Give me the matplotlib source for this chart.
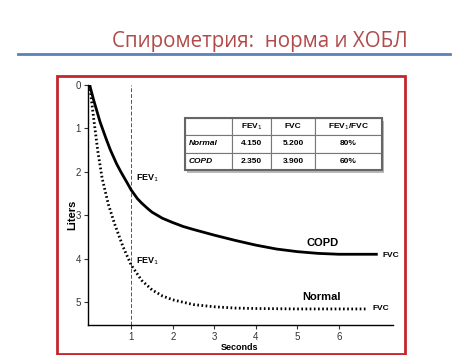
import matplotlib
matplotlib.use("Agg")
import matplotlib.pyplot as plt
from matplotlib.patches import Rectangle
from matplotlib.lines import Line2D

# Data
copd_t = [0, 0.1, 0.25, 0.4, 0.5, 0.65, 0.75, 0.9, 1, 1.15, 1.25, 1.4, 1.5, 1.75, 2,
          2.25, 2.5, 3, 3.5, 4, 4.5, 5, 5.5, 6, 6.9]
copd_v = [0, 0.36, 0.85, 1.25, 1.5, 1.82, 2.0, 2.25, 2.42, 2.62, 2.72, 2.85, 2.93, 3.07, 3.17,
          3.26, 3.33, 3.46, 3.58, 3.69, 3.78, 3.84, 3.88, 3.9, 3.9]
normal_t = [0, 0.1, 0.2, 0.3, 0.45, 0.6, 0.8, 1, 1.25, 1.5, 1.75, 2, 2.5, 3, 3.5, 4, 5, 6, 6.65]
normal_v = [0, 0.8, 1.55, 2.15, 2.75, 3.2, 3.72, 4.15, 4.5, 4.72, 4.86, 4.95, 5.06, 5.11, 5.14,
            5.15, 5.16, 5.16, 5.16]
x_ticks = [1, 2, 3, 4, 5, 6]
y_ticks = [0, 1, 2, 3, 4, 5]
col_labels = ["", "FEV$_1$", "FVC", "FEV$_1$/FVC"]
row_labels = ["Normal", "COPD"]
fev1 = ["4.150", "2.350"]
fvc = ["5.200", "3.900"]
ratio = ["80%", "60%"]

plt.rcParams['font.family'] = ['Liberation Sans', 'DejaVu Sans']

W, H = 474, 355
fig = plt.figure(figsize=(W / 100, H / 100), dpi=100)

# Slide title and rule
fig.text(260 / W, 1 - 41 / H, "Спирометрия:  норма и ХОБЛ", ha='center', va='center',
         fontsize=14.8, color='#b24a4b', family=['Open Sans', 'DejaVu Sans'])
fig.add_artist(Line2D([18 / W, 450 / W], [1 - 54 / H, 1 - 54 / H], color='#5a80b8', lw=2))

# Red frame
fig.add_artist(Rectangle((57 / W, 1 - 354 / H), 348 / W, 278 / H, fill=False,
                         edgecolor='#c1272d', lw=2))

# Axes
ax = fig.add_axes([88 / W, 1 - 325 / H, 305 / W, 240 / H])
ax.set_xlim(-0.04, 7.3)
ax.set_ylim(5.53, 0)
for s in ['top', 'right']:
    ax.spines[s].set_visible(False)
for s in ['left', 'bottom']:
    ax.spines[s].set_linewidth(1)
ax.set_xticks(x_ticks)
ax.set_yticks(y_ticks)
ax.tick_params(labelsize=7, length=3, width=0.8, colors='#333333', pad=2)

# Vertical FEV1 marker
ax.axvline(1, color='#555555', lw=0.7, ls=(0, (4, 2)))

ax.plot(copd_t, copd_v, color='black', lw=2)
ax.plot(normal_t, normal_v, color='black', lw=2, ls=(0, (0.6, 0.9)))

ax.text(1.12, 2.15, "FEV$_1$", fontsize=6.5, fontweight='bold', va='center')
ax.text(1.12, 4.07, "FEV$_1$", fontsize=6.5, fontweight='bold', va='center')
ax.text(5.6, 3.64, "COPD", fontsize=8, fontweight='bold', ha='center', va='center')
ax.text(5.58, 4.88, "Normal", fontsize=8, fontweight='bold', ha='center', va='center')
ax.text(7.05, 3.92, "FVC", fontsize=6, fontweight='bold', va='center')
ax.text(6.8, 5.16, "FVC", fontsize=6, fontweight='bold', va='center')

fig.text(72 / W, 1 - 215 / H, "Liters", rotation=90, ha='center', va='center',
         fontsize=8, fontweight='bold')
fig.text(240 / W, 1 - 347 / H, "Seconds", ha='center', va='center',
         fontsize=6.5, fontweight='bold')

# Table with shadow
tx, ty, tw, th = 0.318, 0.646, 0.646, 0.2167
ax.add_patch(Rectangle((tx + 0.008, ty - 0.012), tw, th, transform=ax.transAxes,
                       facecolor='#bbbbbb', edgecolor='none', zorder=3))
cells = [["", col_labels[1], col_labels[2], col_labels[3]]]
for i in range(2):
    cells.append([row_labels[i], fev1[i], fvc[i], ratio[i]])
widths = [47, 39, 44, 67]
total = sum(widths)
tab = ax.table(cellText=cells, colWidths=[w / total for w in widths],
               bbox=[tx, ty, tw, th], cellLoc='center', zorder=4)
tab.auto_set_font_size(False)
for (r, c), cell in tab.get_celld().items():
    cell.set_edgecolor('#777777')
    cell.set_linewidth(0.8)
    cell.set_facecolor('white')
    txt = cell.get_text()
    txt.set_fontsize(6)
    txt.set_fontweight('bold')
    if c == 0 and r > 0:
        txt.set_fontstyle('italic')
        txt.set_ha('left')
        cell.PAD = 0.08
ax.add_patch(Rectangle((tx, ty), tw, th, transform=ax.transAxes, fill=False,
                       edgecolor='#666666', lw=1.5, zorder=5))

fig.savefig("out.png", dpi=100)
